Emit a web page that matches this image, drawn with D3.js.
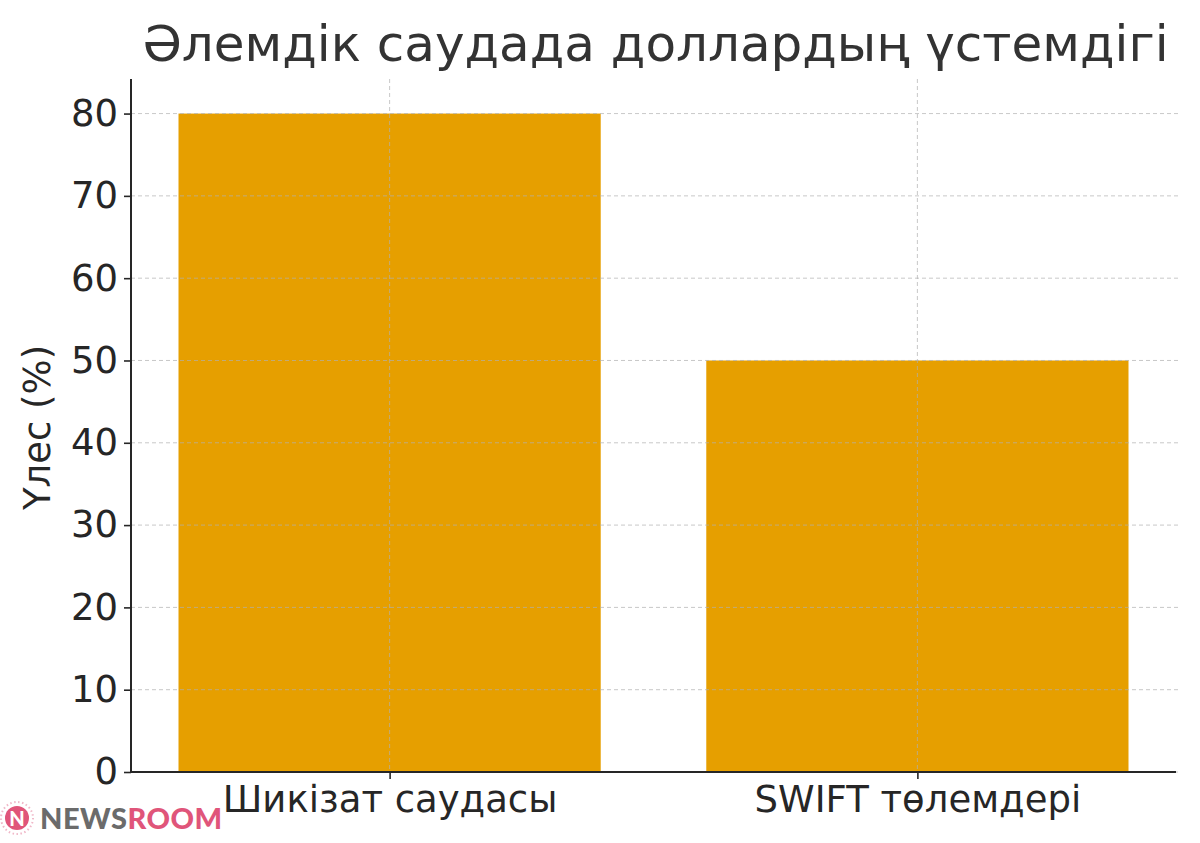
<!DOCTYPE html>
<html><head><meta charset="utf-8">
<script src="https://cdn.jsdelivr.net/npm/d3@7/dist/d3.min.js"></script>
<style>body{margin:0;background:#fff}svg{display:block}</style>
</head><body>
<svg id="c" width="1200" height="843"></svg>
<script>
const categories = ["Шикізат саудасы", "SWIFT төлемдері"];
const values = [80, 50];
const yTicks = [0, 10, 20, 30, 40, 50, 60, 70, 80];
const title = "Әлемдік саудада доллардың үстемдігі";
const yLabel = "Үлес (%)";

const svg = d3.select("#c");
const font = "DejaVu Sans, sans-serif";
const m = {left: 131, right: 1176, top: 79, bottom: 772};
const x = d3.scaleLinear().domain([-0.49, 1.49]).range([m.left, m.right]);
const y = d3.scaleLinear().domain([0, 84.2]).range([m.bottom, m.top]);
const bw = x(0.4) - x(0);
const txt = "#262626";

// bars
svg.selectAll("rect.bar").data(values).join("rect")
  .attr("x", (d,i) => x(i) - bw).attr("width", 2*bw)
  .attr("y", d => y(d)).attr("height", d => y(0) - y(d))
  .attr("fill", "#E69F00");

// grid (over bars)
const g = svg.append("g");
g.selectAll("line.h").data(yTicks).join("line")
  .attr("x1", m.left).attr("x2", m.right+2).attr("y1", d=>y(d)).attr("y2", d=>y(d))
  .attr("stroke", "#b0b0b0").attr("stroke-opacity", 0.7).attr("stroke-width", 1).attr("stroke-dasharray", "4,3");
g.selectAll("line.v").data(categories).join("line")
  .attr("x1", (d,i)=>x(i)).attr("x2", (d,i)=>x(i)).attr("y1", m.top).attr("y2", m.bottom)
  .attr("stroke", "#b0b0b0").attr("stroke-opacity", 0.7).attr("stroke-width", 1).attr("stroke-dasharray", "4,3");

// axes
const yAxis = d3.axisLeft(y).tickValues(yTicks).tickSize(7).tickPadding(6);
const ya = svg.append("g").attr("transform", `translate(${m.left},0)`).call(yAxis);
ya.select(".domain").attr("stroke", txt).attr("stroke-width", 2).attr("d", `M0,${m.top}V${m.bottom}`);
ya.selectAll(".tick line").attr("stroke", txt).attr("stroke-width", 1.6);
ya.selectAll("text").attr("font-family", font).attr("font-size", 37).attr("fill", txt);

const xAxis = d3.axisBottom(x).tickValues([0,1]).tickFormat(i => categories[i]).tickSize(7).tickPadding(7);
const xa = svg.append("g").attr("transform", `translate(0,${m.bottom})`).call(xAxis);
xa.select(".domain").attr("stroke", txt).attr("stroke-width", 2).attr("d", `M${m.left},0H${m.right}`);
xa.selectAll(".tick line").attr("stroke", txt).attr("stroke-width", 1.6);
xa.selectAll("text").attr("font-family", font).attr("font-size", 37).attr("fill", txt).attr("dy", "0.71em");

// title
svg.append("text").attr("x", (m.left+m.right)/2 + 2).attr("y", 61).attr("text-anchor", "middle")
  .attr("font-family", font).attr("font-size", 50).attr("fill", "#333").text(title);

// y label
svg.append("text").attr("transform", `translate(50,${(m.top+m.bottom)/2 + 2}) rotate(-90)`)
  .attr("text-anchor", "middle").attr("font-family", font).attr("font-size", 37).attr("fill", txt).text(yLabel);

// watermark
const wm = svg.append("g");
wm.append("circle").attr("cx", 17).attr("cy", 818).attr("r", 16).attr("fill", "none")
  .attr("stroke", "#f0b8c8").attr("stroke-width", 2).attr("stroke-dasharray", "1.5,2.5");
wm.append("circle").attr("cx", 17).attr("cy", 818).attr("r", 12).attr("fill", "#e0557a");
wm.append("text").attr("x", 17).attr("y", 826).attr("text-anchor", "middle").attr("font-family", "Lato, sans-serif")
  .attr("font-weight", 900).attr("font-size", 20).attr("fill", "#fff").text("N");
const wt = wm.append("text").attr("x", 40).attr("y", 829).attr("font-family", "Lato, sans-serif")
  .attr("font-weight", 900).attr("font-size", 29).attr("letter-spacing", 0.5);
wt.append("tspan").attr("fill", "#6b6b6b").text("NEWS");
wt.append("tspan").attr("fill", "#e0557a").text("ROOM");
</script>
</body></html>
